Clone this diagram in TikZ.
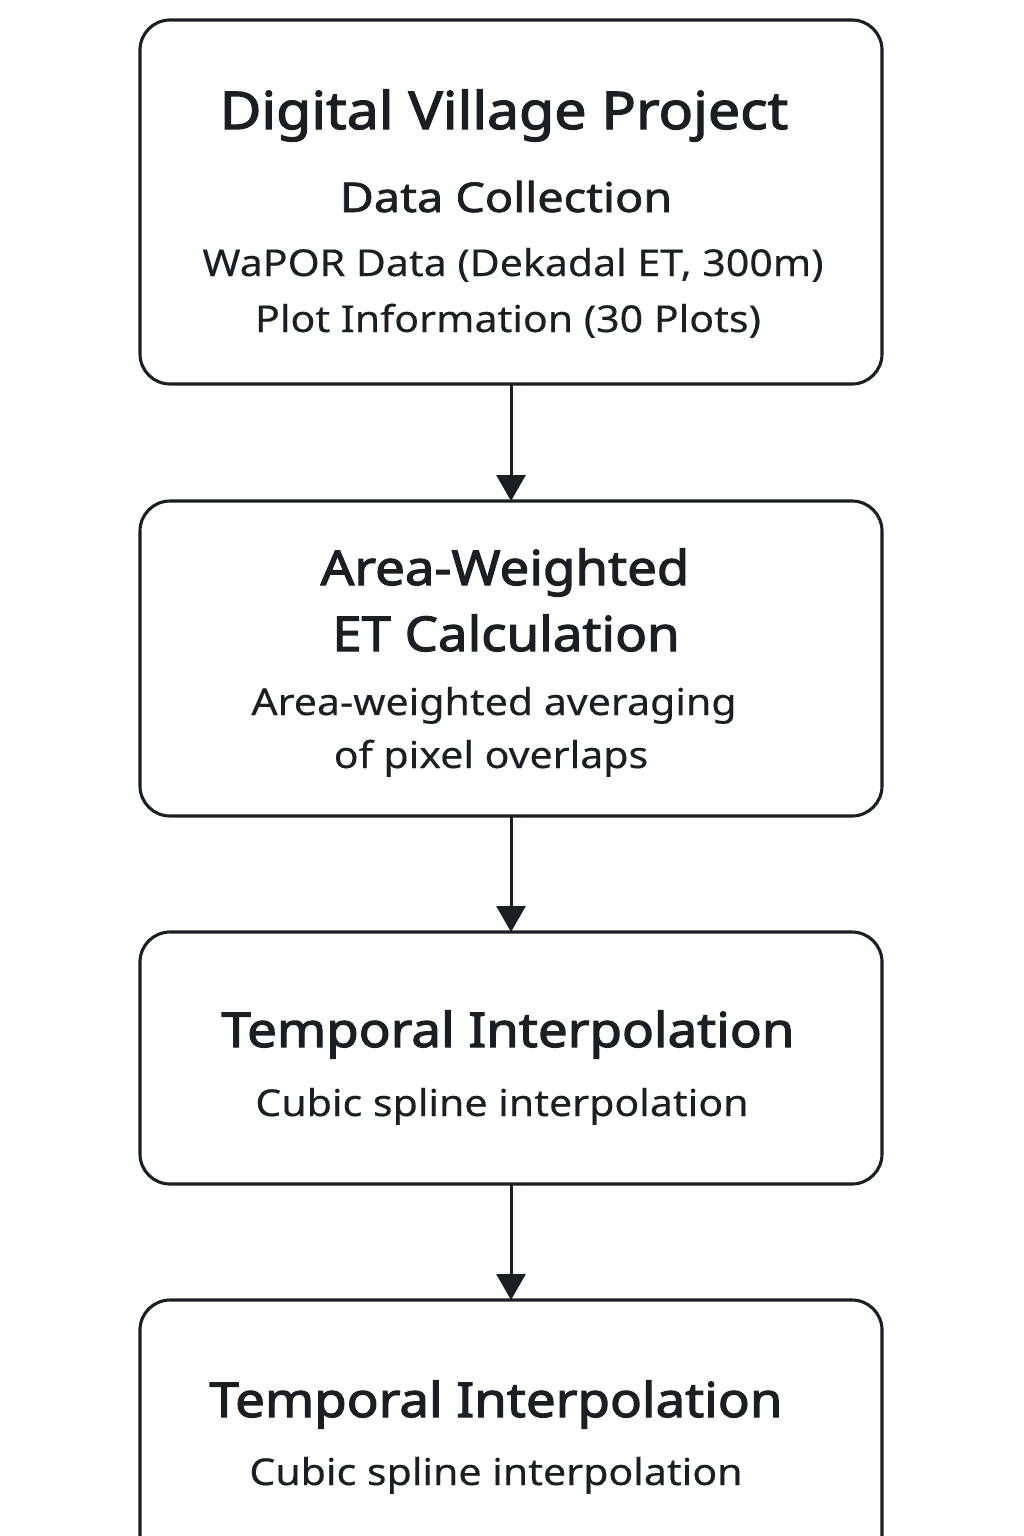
\documentclass[tikz,border=0pt]{standalone}
\usepackage{fontspec}
\setmainfont{Noto Sans}
\newfontfamily\ttlfont{Noto Sans}[FakeStretch=1.1, FakeBold=2.4]
\newfontfamily\midfont{Noto Sans}[FakeStretch=1.14, FakeBold=1.7]
\newfontfamily\subfont{Noto Sans}[FakeStretch=1.11, FakeBold=0.3]
\usetikzlibrary{arrows.meta}
\definecolor{ink}{HTML}{1B1F23}
\tikzset{
  box/.style={draw=ink, line width=3.1pt, rounded corners=30pt, minimum width=742pt, inner sep=0pt, outer sep=0pt},
  ttl/.style={anchor=base, text=ink, inner sep=0pt, font=\ttlfont\fontsize{48}{56}\selectfont},
  mid/.style={anchor=base, text=ink, inner sep=0pt, font=\midfont\fontsize{41}{48}\selectfont},
  sub/.style={anchor=base, text=ink, inner sep=0pt, font=\subfont\fontsize{37}{44}\selectfont},
  flow/.style={draw=ink, line width=3pt, -{Triangle[width=29pt,length=26pt]}}
}
\begin{document}
\begin{tikzpicture}[x=1pt,y=-1pt]
\useasboundingbox (0,0) rectangle (1024,1536);
\clip (0,0) rectangle (1024,1536);
\fill[white] (0,0) rectangle (1024,1536);
\node[box, minimum height=364pt] (b1) at (511,202) {};
\node[box, minimum height=315pt] (b2) at (511,658.5) {};
\node[box, minimum height=252pt] (b3) at (511,1058) {};
\node[box, minimum height=300pt] (b4) at (511,1450) {};
\draw[flow] (b1.south) -- (b2.north);
\draw[flow] (b2.south) -- (b3.north);
\draw[flow] (b3.south) -- (b4.north);
\node[ttl, font=\ttlfont\fontsize{52}{60}\selectfont] (t1) at (504,129) {Digital Village Project};
\node[mid] (t1b) at (506,212) {Data Collection};
\node[sub] (t1c) at (513,276) {WaPOR Data (Dekadal ET, 300m)};
\node[sub] (t1d) at (508,332) {Plot Information (30 Plots)};
\node[ttl] (t2) at (505,585) {Area-Weighted};
\node[ttl] (t2b) at (506,651) {ET Calculation};
\node[sub] (t2c) at (494,715) {Area-weighted averaging};
\node[sub] (t2d) at (491,768) {of pixel overlaps};
\node[ttl] (t3) at (508,1047) {Temporal Interpolation};
\node[sub] (t3b) at (502,1116) {Cubic spline interpolation};
\node[ttl] (t4) at (496,1417) {Temporal Interpolation};
\node[sub] (t4b) at (496,1485) {Cubic spline interpolation};
\end{tikzpicture}
\end{document}
